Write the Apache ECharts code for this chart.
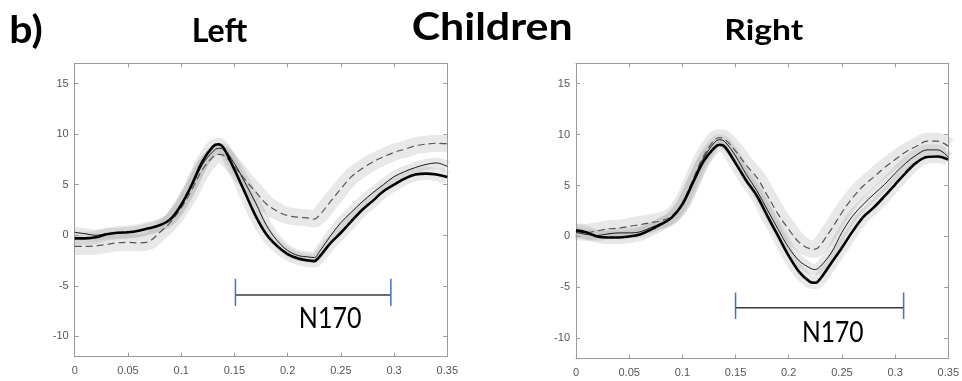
<!DOCTYPE html>
<html><head><meta charset="utf-8">
<script src="https://cdn.jsdelivr.net/npm/echarts@6/dist/echarts.min.js"></script>
<style>html,body{margin:0;padding:0;background:#fff}#c{width:962px;height:381px}</style>
</head><body><div id="c"></div>
<script>
// ---------- DATA ----------
const time = [0,0.01,0.02,0.03,0.04,0.05,0.06,0.07,0.08,0.09,0.10,0.11,0.12,0.13,0.135,0.14,0.15,0.16,0.17,0.18,0.19,0.20,0.21,0.22,0.225,0.23,0.24,0.25,0.26,0.27,0.28,0.29,0.30,0.31,0.32,0.33,0.34,0.35];
const xTicks = [0,0.05,0.1,0.15,0.2,0.25,0.3,0.35];
const yTicks = [-10,-5,0,5,10,15];

const leftThick  = [-0.3,-0.3,-0.2,0.1,0.25,0.3,0.45,0.7,1.0,1.6,3.0,5.0,7.3,8.8,9.0,8.6,6.5,4.2,1.9,0.1,-1.05,-1.85,-2.3,-2.5,-2.55,-2.1,-0.8,0.25,1.4,2.5,3.4,4.35,5.0,5.6,6.0,6.1,6.0,5.75];
const leftThin   = [0.3,0.15,0.0,0.15,0.2,0.3,0.4,0.7,1.0,1.6,3.0,4.85,7.0,8.3,8.6,8.5,7.1,5.2,3.2,1.0,-0.5,-1.5,-2.0,-2.15,-2.2,-1.6,-0.1,1.25,2.3,3.3,4.2,5.0,5.8,6.3,6.7,7.0,7.15,6.8];
const leftDashed = [-1.1,-1.1,-1.05,-0.9,-0.75,-0.7,-0.75,-0.6,0.3,1.3,2.7,4.5,6.5,7.75,8.0,7.9,6.8,5.5,4.3,3.1,2.4,1.95,1.8,1.7,1.6,2.0,3.3,4.6,5.8,6.6,7.25,7.75,8.2,8.5,8.85,9.0,9.1,9.05];

const rightThick  = [0.6,0.4,0.0,-0.1,-0.1,0.0,0.2,0.65,1.2,1.85,3.15,5.3,7.4,8.7,9.0,8.8,7.2,5.5,4.0,2.0,0.05,-1.9,-3.5,-4.45,-4.55,-4.1,-2.6,-1.1,0.5,1.9,2.85,3.95,5.1,6.25,7.25,7.8,7.85,7.55];
const rightThin   = [0.4,0.2,0.1,0.25,0.35,0.35,0.45,0.85,1.3,1.85,3.2,5.5,7.7,9.2,9.5,9.3,7.9,6.1,4.5,2.6,0.7,-1.1,-2.4,-3.1,-3.25,-2.9,-1.6,0.4,2.0,3.15,4.15,5.1,6.2,7.2,8.0,8.5,8.5,7.8];
const rightDashed = [0.5,0.4,0.55,0.75,0.8,1.0,1.15,1.35,1.55,2.0,3.3,5.6,7.9,9.45,9.7,9.55,8.4,7.0,5.8,4.0,2.2,0.7,-0.6,-1.2,-1.25,-0.8,0.7,2.35,3.8,4.95,5.85,6.75,7.55,8.3,8.85,9.35,9.35,8.85];

// N170 window: [start, end, level, capTop, capBottom]
const n170Left  = [0.151, 0.297, -5.9, -4.3, -7.0];
const n170Right = [0.150, 0.308, -7.0, -5.5, -8.1];
const n170LabelLeft  = [0.240, -8.15];
const n170LabelRight = [0.2414, -9.29];
const n170Text = 'N170';
const titleTexts = ['b)', 'Left', 'Children', 'Right'];

// ---------- CHART ----------
const chart = echarts.init(document.getElementById('c'), null, {renderer:'canvas'});
const AX = '#9a9a9a', LAB = '#555';
const grids = [
  {left:74.7, top:63.3, width:372.6, height:293.4},
  {left:576, top:63.3, width:375.3, height:295.4}
];
const fmt = v => v === 0 ? '0' : String(+v.toFixed(2));
const xAxes = [], yAxes = [];
grids.forEach((g, gi) => {
  ['bottom','top'].forEach(pos => xAxes.push({
    gridIndex: gi, type:'value', min:0, max:0.35, interval:0.05, position:pos,
    axisLine:{show:true, onZero:false, lineStyle:{color:AX, width:1}},
    axisTick:{show:true, inside:true, length:4, lineStyle:{color:AX}},
    axisLabel:{show:pos==='bottom', color:LAB, fontSize:11, fontFamily:'Liberation Sans, Arial', margin:9, formatter:fmt},
    splitLine:{show:false}
  }));
  ['left','right'].forEach(pos => yAxes.push({
    gridIndex: gi, type:'value', min:-12, max:17, position:pos,
    axisLine:{show:true, onZero:false, lineStyle:{color:AX, width:1}},
    axisTick:{show:true, inside:true, length:4, customValues:yTicks, lineStyle:{color:AX}},
    axisLabel:{show:pos==='left', customValues:yTicks, color:LAB, fontSize:11, fontFamily:'Liberation Sans, Arial', margin:6},
    splitLine:{show:false}
  }));
});

const pair = vals => time.map((t,i) => [t, vals[i]]);
const series = [];
function addCurves(gi, curves){
  const xi = gi*2, yi = gi*2;
  curves.forEach(c => series.push({
    type:'line', xAxisIndex:xi, yAxisIndex:yi, data:pair(c.vals), smooth:0.35, symbol:'none', silent:true, z:1,
    lineStyle:{color:'rgba(150,150,150,0.22)', width:c.band, cap:'butt', join:'round'}
  }));
  curves.forEach(c => series.push({
    type:'line', xAxisIndex:xi, yAxisIndex:yi, data:pair(c.vals), smooth:0.35, symbol:'none', silent:true, z:3,
    lineStyle:c.style
  }));
}
const thickStyle = {color:'#000', width:2.6};
const thinStyle  = {color:'#1a1a1a', width:1};
const dashStyle  = {color:'#555', width:1.2, type:[7,4]};
addCurves(0, [
  {vals:leftDashed, band:17, style:dashStyle},
  {vals:leftThin, band:11, style:thinStyle},
  {vals:leftThick, band:13, style:thickStyle}
]);
addCurves(1, [
  {vals:rightDashed, band:17, style:dashStyle},
  {vals:rightThin, band:11, style:thinStyle},
  {vals:rightThick, band:13, style:thickStyle}
]);
function addN170(gi, n){
  const [s, e, lvl, top, bot] = n;
  const base = {type:'line', xAxisIndex:gi*2, yAxisIndex:gi*2, symbol:'none', silent:true, z:4};
  series.push(Object.assign({}, base, {data:[[s,lvl],[e,lvl]], lineStyle:{color:'#3a3a3a', width:1.5}}));
  series.push(Object.assign({}, base, {data:[[s,top],[s,bot]], lineStyle:{color:'#4472c4', width:1.5}}));
  series.push(Object.assign({}, base, {data:[[e,top],[e,bot]], lineStyle:{color:'#4472c4', width:1.5}}));
}
addN170(0, n170Left);
addN170(1, n170Right);

chart.setOption({
  backgroundColor:'#fff', animation:false,
  grid: grids.map(g => Object.assign({containLabel:false}, g)),
  xAxis: xAxes, yAxis: yAxes, series: series
});

// ---------- TEXT (fitted to reference size) ----------
const mc = document.createElement('canvas').getContext('2d');
function fitText(text, family, weight, glyphH, targetW, cx, cy){
  mc.font = weight + ' 100px ' + family;
  mc.textBaseline = 'middle';
  const m = mc.measureText(text);
  const h100 = m.actualBoundingBoxAscent + m.actualBoundingBoxDescent;
  const size = glyphH / h100 * 100;
  mc.font = weight + ' ' + size + 'px ' + family;
  const m2 = mc.measureText(text);
  const sx = targetW / m2.width;
  const y = cy - (m2.actualBoundingBoxDescent - m2.actualBoundingBoxAscent)/2;
  return {type:'text', x:cx, y:y, scaleX:sx, z:100,
    style:{text:text, font:weight + ' ' + size + 'px ' + family, fill:'#000', textAlign:'center', textVerticalAlign:'middle', verticalAlign:'middle'}};
}
const TF = 'Lato';
const gfx = [
  fitText(titleTexts[0], TF, 'bold', 35.5, 33.4, 26, 31),
  fitText(titleTexts[1], TF, 'bold', 24, 55.6, 219.5, 30.3),
  fitText(titleTexts[2], TF, 'bold', 28.3, 161, 492.2, 25.8),
  fitText(titleTexts[3], TF, 'bold', 27, 79, 763.8, 31.8)
];
const pL = chart.convertToPixel({gridIndex:0}, n170LabelLeft);
const pR = chart.convertToPixel({gridIndex:1}, n170LabelRight);
gfx.push(fitText(n170Text, TF, 'normal', 21, 62.7, pL[0], pL[1]));
gfx.push(fitText(n170Text, TF, 'normal', 21, 61.7, pR[0], pR[1]));
chart.setOption({graphic: gfx});
</script></body></html>
